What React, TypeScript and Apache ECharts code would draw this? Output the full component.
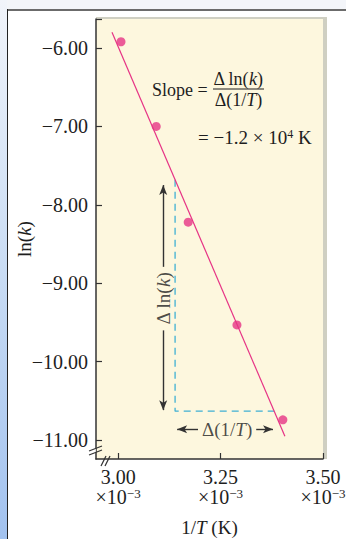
import React, { useEffect, useRef } from "react";
import * as echarts from "echarts";

// ---- data ----
const xVals = [3.007, 3.093, 3.171, 3.29, 3.402]; // 1/T in units of 1e-3 K^-1
const yVals = [-5.92, -7.0, -8.22, -9.53, -10.74]; // ln(k)
const fitLine = [
  [2.985, -5.8],
  [3.407, -10.95],
];
const dashPath = [
  [3.139, -7.68],
  [3.139, -10.63],
  [3.381, -10.63],
];
const xTicks = [3.0, 3.25, 3.5];
const yTicks = [-11, -10, -9, -8, -7, -6];
const xRange = [2.946, 3.5];
const yRange = [-11.24, -5.63];
const vArrowX = 3.11;
const vArrowTop = -7.747;
const vArrowBottom = -10.617;
const vGap = [-8.79, -9.6];
const hArrowY = -10.86;
const hArrowEnds = [3.144, 3.378];
const hGap = [3.195, 3.337];

const FONT = "'Liberation Serif', 'Times New Roman', serif";
const TXT = "#1e1e1e";
const PINK = "#e63385";
const AX = "#333333";

export default function App() {
  const ref = useRef<HTMLDivElement>(null);
  useEffect(() => {
    if (!ref.current) return;
    const chart = echarts.init(ref.current, undefined, { renderer: "svg" });
    const italic = { fontStyle: "italic" as const, fontFamily: FONT, fontSize: 19, color: TXT };
    const normal = { fontFamily: FONT, fontSize: 19, color: TXT };
    const italic18 = { fontStyle: "italic" as const, fontFamily: FONT, fontSize: 18, color: TXT };
    const normal18 = { fontFamily: FONT, fontSize: 18, color: TXT };
    const minus = (v: number) => (v < 0 ? "\u2212" : "") + Math.abs(v).toFixed(2);
    const option: any = {
      animation: false,
      grid: {
        left: 96,
        top: 19,
        width: 227,
        height: 440,
        show: true,
        backgroundColor: "#fdf7de",
        borderWidth: 0,
        containLabel: false,
        outerBoundsMode: "none",
      },
      xAxis: {
        type: "value",
        min: xRange[0],
        max: xRange[1],
        axisLine: { show: true, onZero: false, lineStyle: { color: AX, width: 1.5 } },
        axisTick: { show: true, inside: true, length: 6, customValues: xTicks, lineStyle: { color: AX, width: 1.2 } },
        axisLabel: {
          customValues: xTicks,
          formatter: (v: number) => "{a|" + v.toFixed(2) + "}\n{a|\u00d710}{s|\u22123}",
          fontFamily: FONT,
          fontSize: 20,
          lineHeight: 20,
          color: TXT,
          margin: 8,
          hideOverlap: false,
          rich: {
            a: { fontFamily: FONT, fontSize: 20, lineHeight: 20, color: TXT },
            s: { fontFamily: FONT, fontSize: 13, lineHeight: 8, verticalAlign: "top", color: TXT },
          },
        },
        splitLine: { show: false },
        name: "{n|1/}{i|T}{n| (K)}",
        nameLocation: "middle",
        nameGap: 59,
        nameMoveOverlap: false,
        nameTextStyle: { rich: { n: normal, i: italic }, fontFamily: FONT, fontSize: 19, color: TXT },
      },
      yAxis: {
        type: "value",
        min: yRange[0],
        max: yRange[1],
        axisLine: { show: true, onZero: false, lineStyle: { color: AX, width: 1.5 } },
        axisTick: {
          show: true,
          inside: true,
          length: 6,
          customValues: [...yTicks, yRange[1]],
          lineStyle: { color: AX, width: 1.2 },
        },
        axisLabel: {
          customValues: yTicks,
          formatter: (v: number) => minus(v),
          fontFamily: FONT,
          fontSize: 20,
          color: TXT,
          margin: 8,
        },
        splitLine: { show: false },
        name: "{n|ln(}{i|k}{n|)}",
        nameLocation: "middle",
        nameGap: 62,
        nameMoveOverlap: false,
        nameTextStyle: { rich: { n: normal, i: italic }, fontFamily: FONT, fontSize: 19, color: TXT },
      },
      series: [
        {
          type: "line",
          data: fitLine,
          symbol: "none",
          lineStyle: { color: PINK, width: 1.2 },
          silent: true,
          z: 3,
        },
        {
          type: "line",
          data: dashPath,
          symbol: "none",
          lineStyle: { color: "#3fb0d4", width: 1.3, type: [7, 5] },
          silent: true,
          z: 2,
        },
        {
          type: "scatter",
          data: xVals.map((x, i) => [x, yVals[i]]),
          symbolSize: 9,
          itemStyle: { color: PINK },
          z: 4,
        },
        {
          type: "line",
          data: [],
          markLine: {
            silent: true,
            symbol: ["none", "arrow"],
            symbolSize: [6, 10],
            label: { show: false },
            lineStyle: { color: AX, width: 1.4, type: "solid" },
            data: [
              [{ coord: [vArrowX, vGap[0]] }, { coord: [vArrowX, vArrowTop] }],
              [{ coord: [vArrowX, vGap[1]] }, { coord: [vArrowX, vArrowBottom] }],
              [{ coord: [hGap[0], hArrowY] }, { coord: [hArrowEnds[0], hArrowY] }],
              [{ coord: [hGap[1], hArrowY] }, { coord: [hArrowEnds[1], hArrowY] }],
            ],
          },
        },
        {
          type: "scatter",
          symbolSize: 0,
          silent: true,
          label: {
            show: true,
            position: "inside",
            fontFamily: FONT,
            fontSize: 19,
            color: TXT,
            rich: { i: italic, n: normal },
          },
          data: [
            {
              value: [vArrowX, (vGap[0] + vGap[1]) / 2],
              label: { formatter: "{n|\u0394 ln(}{i|k}{n|)}", rotate: 90 },
            },
            {
              value: [(hGap[0] + hGap[1]) / 2, hArrowY],
              label: { formatter: "{n|\u0394(1/}{i|T}{n|)}" },
            },
          ],
        },
      ],
      graphic: [
        {
          type: "text",
          x: 152,
          y: 90,
          style: { text: "Slope =", font: `18px ${FONT}`, fill: TXT, verticalAlign: "middle" },
        },
        {
          type: "text",
          x: 238,
          y: 79,
          style: {
            text: "{n|\u0394 ln(}{i|k}{n|)}",
            rich: { n: normal18, i: italic18 },
            align: "center",
            verticalAlign: "middle",
            font: `18px ${FONT}`,
            fill: TXT,
          },
        },
        {
          type: "line",
          shape: { x1: 213, y1: 89, x2: 264, y2: 89 },
          style: { stroke: TXT, lineWidth: 1 },
        },
        {
          type: "text",
          x: 238.5,
          y: 100,
          style: {
            text: "{n|\u0394(1/}{i|T}{n|)}",
            rich: { n: normal18, i: italic18 },
            align: "center",
            verticalAlign: "middle",
            font: `18px ${FONT}`,
            fill: TXT,
          },
        },
        {
          type: "text",
          x: 198,
          y: 137,
          style: {
            text: "{n|= \u22121.2 \u00d7 10}{s|4}{n| K}",
            rich: {
              n: normal,
              s: { fontFamily: FONT, fontSize: 12, lineHeight: 8, verticalAlign: "top", color: TXT },
            },
            align: "left",
            verticalAlign: "middle",
            font: `19px ${FONT}`,
            fill: TXT,
          },
        },
        // axis break marks
        { type: "rect", shape: { x: 94.2, y: 448.5, width: 1.6, height: 4 }, style: { fill: "#ffffff" }, z: 10 },
        { type: "line", shape: { x1: 89, y1: 451, x2: 102, y2: 446 }, style: { stroke: AX, lineWidth: 1.2 }, z: 11 },
        { type: "line", shape: { x1: 89, y1: 455, x2: 102, y2: 450 }, style: { stroke: AX, lineWidth: 1.2 }, z: 11 },
        { type: "line", shape: { x1: 101, y1: 466, x2: 106, y2: 456 }, style: { stroke: AX, lineWidth: 1.2 }, z: 11 },
        { type: "line", shape: { x1: 105, y1: 466, x2: 110, y2: 456 }, style: { stroke: AX, lineWidth: 1.2 }, z: 11 },
      ],
    };
    chart.setOption(option);
    return () => chart.dispose();
  }, []);

  return (
    <div style={{ position: "fixed", left: 0, top: 0, width: 346, height: 539, background: "#ffffff", overflow: "hidden" }}>
      <div style={{ position: "absolute", left: 0, top: 0, width: 346, height: 9, background: "#f3f5f9" }} />
      <div
        style={{
          position: "absolute",
          left: 0,
          top: 0,
          width: 7,
          height: 539,
          background: "linear-gradient(to bottom, #f1f4fa 0%, #c9dcf4 50%, #a2c2ef 100%)",
        }}
      />
      <div style={{ position: "absolute", left: 7, top: 8.5, width: 339, height: 2, background: "#6b6b6b" }} />
      <div style={{ position: "absolute", left: 6.5, top: 9, width: 1.6, height: 530, background: "#222222" }} />
      <div style={{ position: "absolute", left: 96, top: 17, width: 231, height: 442, background: "#cfcfc2" }} />
      <div ref={ref} style={{ position: "absolute", left: 0, top: 0, width: 346, height: 539 }} />
    </div>
  );
}
